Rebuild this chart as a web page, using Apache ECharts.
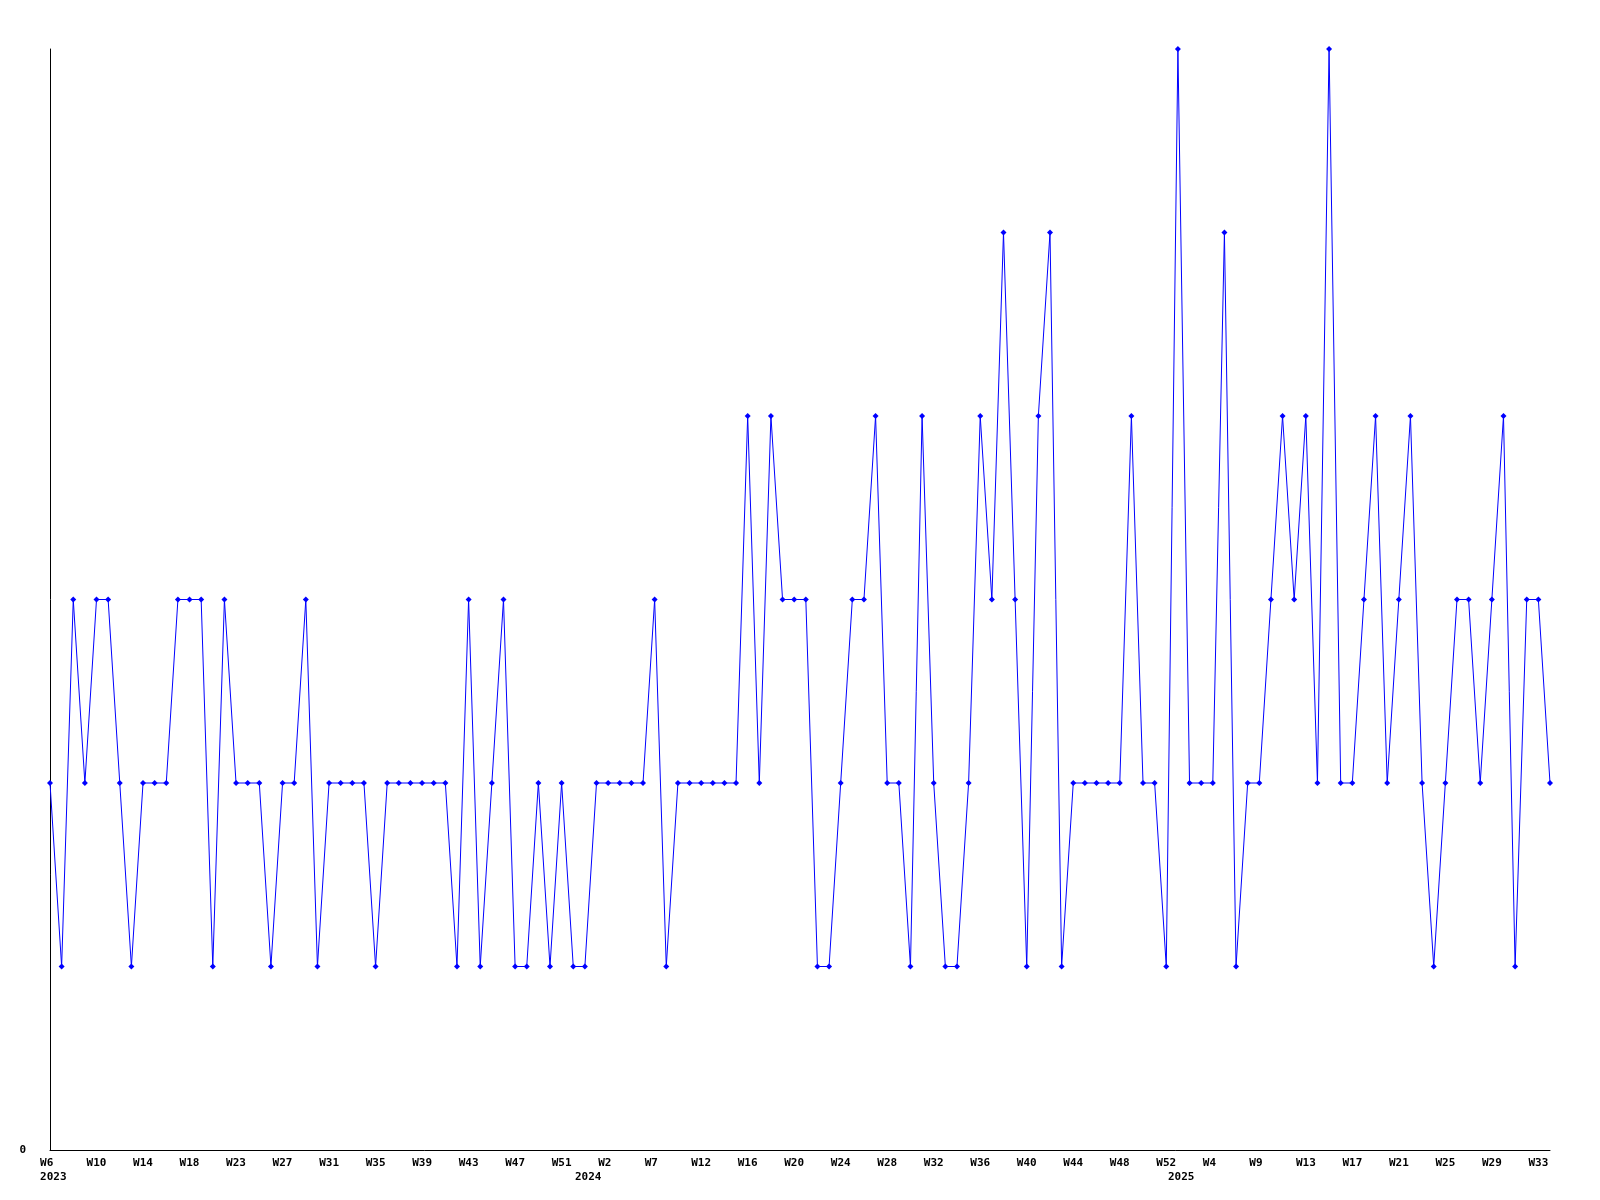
<!DOCTYPE html>
<html>
<head>
<meta charset="utf-8">
<script src="https://cdn.jsdelivr.net/npm/echarts@6/dist/echarts.min.js"></script>
<style>
html,body{margin:0;padding:0;background:#fff;}
#chart{width:1600px;height:1200px;}
</style>
</head>
<body>
<div id="chart"></div>
<script>
// Weekly values, first point = 2023 W6, last point = 2025 W34
var values = [
  2,1,3,2,3,3,2,1,2,2, 2,3,3,3,1,3,2,2,2,1,
  2,2,3,1,2,2,2,2,1,2, 2,2,2,2,2,1,3,1,2,3,
  1,1,2,1,2,1,1,2,2,2, 2,2,3,1,2,2,2,2,2,2,
  4,2,4,3,3,3,1,1,2,3, 3,4,2,2,1,4,2,1,1,2,
  4,3,5,3,1,4,5,1,2,2, 2,2,2,4,2,2,1,6,2,2,
  2,5,1,2,2,3,4,3,4,2, 6,2,2,3,4,2,3,4,2,1,
  2,3,3,2,3,4,1,3,3,2
];
// Week tick labels, one every 4 points
var tickLabels = ['W6','W10','W14','W18','W23','W27','W31','W35','W39','W43','W47','W51',
  'W2','W7','W12','W16','W20','W24','W28','W32','W36','W40','W44','W48','W52',
  'W4','W9','W13','W17','W21','W25','W29','W33'];
var tickEvery = 4;
// Year labels and the point index where each year starts
var yearLabels = ['2023','2024','2025'];
var yearIndex = [0,46,97];
var yMax = 6;

var categories = values.map(function(v,i){ return String(i); });

function labelFor(i){
  var w = '';
  if (i % tickEvery === 0 && tickLabels[i / tickEvery] !== undefined) {
    w = tickLabels[i / tickEvery];
    while (w.length < 3) w += ' ';
  }
  var yi = yearIndex.indexOf(i);
  if (yi >= 0) {
    return w + '\n ' + yearLabels[yi];
  }
  return w;
}

var font = {fontFamily:'DejaVu Sans Mono', fontWeight:'bold', fontSize:11, color:'#000'};

var chart = echarts.init(document.getElementById('chart'), null, {renderer:'canvas'});
chart.setOption({
  animation:false,
  backgroundColor:'#ffffff',
  grid:{left:50, right:50, top:49, bottom:50, containLabel:false, outerBoundsMode:'none'},
  xAxis:{
    type:'category',
    data:categories,
    boundaryGap:false,
    axisLine:{show:true, lineStyle:{color:'#000', width:1}},
    axisTick:{show:false},
    splitLine:{show:false},
    axisLabel:Object.assign({
      interval:0,
      margin:6,
      lineHeight:14,
      hideOverlap:false,
      formatter:function(val, idx){ return labelFor(Number(val)); }
    }, font)
  },
  yAxis:{
    type:'value',
    min:0, max:yMax, interval:yMax,
    axisLine:{show:true, lineStyle:{color:'#000', width:1}},
    axisTick:{show:false},
    splitLine:{show:false},
    axisLabel:Object.assign({
      margin:24,
      formatter:function(v){ return v === 0 ? '0' : ''; }
    }, font)
  },
  series:[{
    type:'line',
    data:values,
    symbol:'diamond',
    symbolSize:6,
    showSymbol:true,
    lineStyle:{color:'#0000ff', width:1},
    itemStyle:{color:'#0000ff'},
    emphasis:{disabled:true}
  }]
});
</script>
</body>
</html>
